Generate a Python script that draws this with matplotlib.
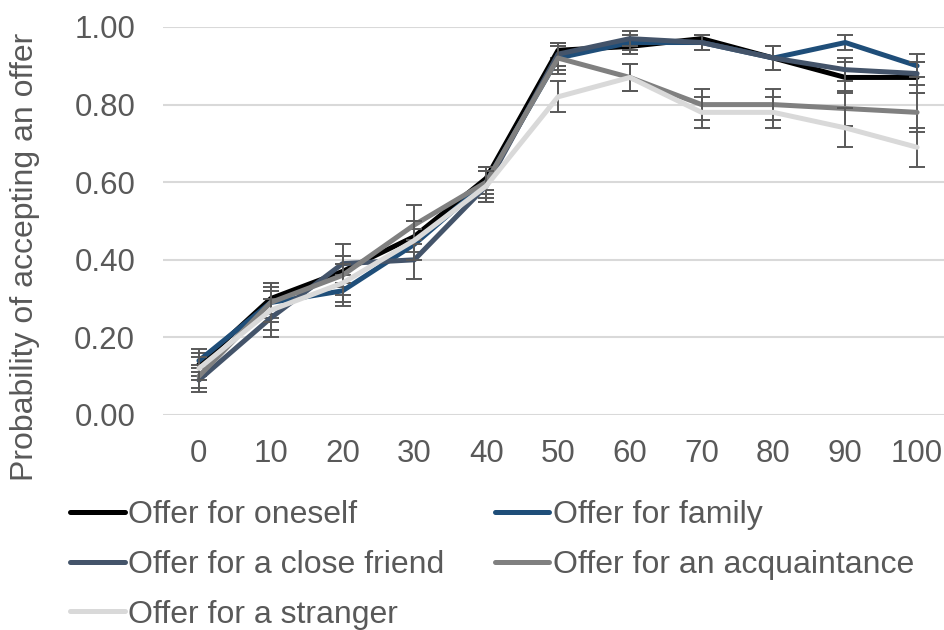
import matplotlib
matplotlib.use("Agg")
import matplotlib.pyplot as plt

plt.rcParams['font.family'] = ['Liberation Sans', 'DejaVu Sans']

# offer amounts and acceptance probabilities per recipient
offers = [0, 10, 20, 30, 40, 50, 60, 70, 80, 90, 100]

oneself = [0.13, 0.30, 0.37, 0.46, 0.61, 0.94, 0.95, 0.97, 0.92, 0.87, 0.87]
family = [0.14, 0.29, 0.32, 0.44, 0.60, 0.92, 0.96, 0.96, 0.92, 0.96, 0.90]
close_friend = [0.09, 0.25, 0.39, 0.40, 0.59, 0.93, 0.97, 0.96, 0.92, 0.89, 0.88]
acquaintance = [0.10, 0.29, 0.36, 0.49, 0.60, 0.92, 0.87, 0.80, 0.80, 0.79, 0.78]
stranger = [0.12, 0.27, 0.34, 0.45, 0.59, 0.82, 0.87, 0.78, 0.78, 0.74, 0.69]

# standard errors
err_oneself = [0.03, 0.04, 0.04, 0.04, 0.03, 0.02, 0.02, 0.01, 0.03, 0.04, 0.04]
err_family = [0.03, 0.04, 0.04, 0.04, 0.03, 0.03, 0.02, 0.02, 0.03, 0.02, 0.03]
err_close_friend = [0.03, 0.05, 0.05, 0.05, 0.04, 0.03, 0.02, 0.02, 0.03, 0.03, 0.03]
err_acquaintance = [0.03, 0.05, 0.05, 0.05, 0.04, 0.04, 0.035, 0.04, 0.04, 0.045, 0.05]
err_stranger = [0.03, 0.05, 0.05, 0.05, 0.04, 0.04, 0.035, 0.04, 0.04, 0.05, 0.05]

labels = ['Offer for oneself', 'Offer for family', 'Offer for a close friend',
          'Offer for an acquaintance', 'Offer for a stranger']
series = [oneself, family, close_friend, acquaintance, stranger]
errors = [err_oneself, err_family, err_close_friend, err_acquaintance, err_stranger]
colors = ['#000000', '#1F4E79', '#44546A', '#808080', '#D9D9D9']

text_col = '#595959'

fig = plt.figure(figsize=(9.45, 6.3), dpi=100)
ax = fig.add_axes([163 / 945, 215 / 630, 790 / 945, 388 / 630])

lines = []
for i, (vals, err, col, lab) in enumerate(zip(series, errors, colors, labels)):
    ax.errorbar(offers, vals, yerr=err, fmt='none', ecolor='#595959',
                elinewidth=1.4, capsize=6, capthick=1.4, zorder=2 + i)
    ln, = ax.plot(offers, vals, color=col, lw=3.6, label=lab,
                  solid_capstyle='round', solid_joinstyle='round', zorder=2 + i)
    lines.append(ln)

ax.set_xlim(-5, 105)
ax.set_ylim(0, 1.0)
ax.set_xticks(offers)
ax.set_xticklabels([str(o) for o in offers])
ax.set_yticks([0, 0.2, 0.4, 0.6, 0.8, 1.0])
ax.set_yticklabels(['0.00', '0.20', '0.40', '0.60', '0.80', '1.00'])
ax.tick_params(axis='both', length=0, labelsize=22.5, labelcolor=text_col)
ax.tick_params(axis='x', pad=17)
ax.tick_params(axis='y', pad=20)
ax.yaxis.grid(True, color='#D9D9D9', lw=1.5)
ax.set_axisbelow(True)
for s in ax.spines.values():
    s.set_visible(False)

fig.text(25 / 945, 1 - 257 / 630, 'Probability of accepting an offer',
         rotation=90, ha='center', va='center', fontsize=23, color=text_col)

order = [0, 2, 4, 1, 3]
leg = fig.legend([lines[i] for i in order], [labels[i] for i in order],
                 ncol=2, loc='upper left', bbox_to_anchor=(70 / 945, 1 - 500 / 630),
                 frameon=False, fontsize=23, handlelength=1.72, handletextpad=0.1,
                 columnspacing=1.57, labelspacing=0.62, borderpad=0, borderaxespad=0)
for t in leg.get_texts():
    t.set_color(text_col)

fig.savefig('out.png', dpi=100)
